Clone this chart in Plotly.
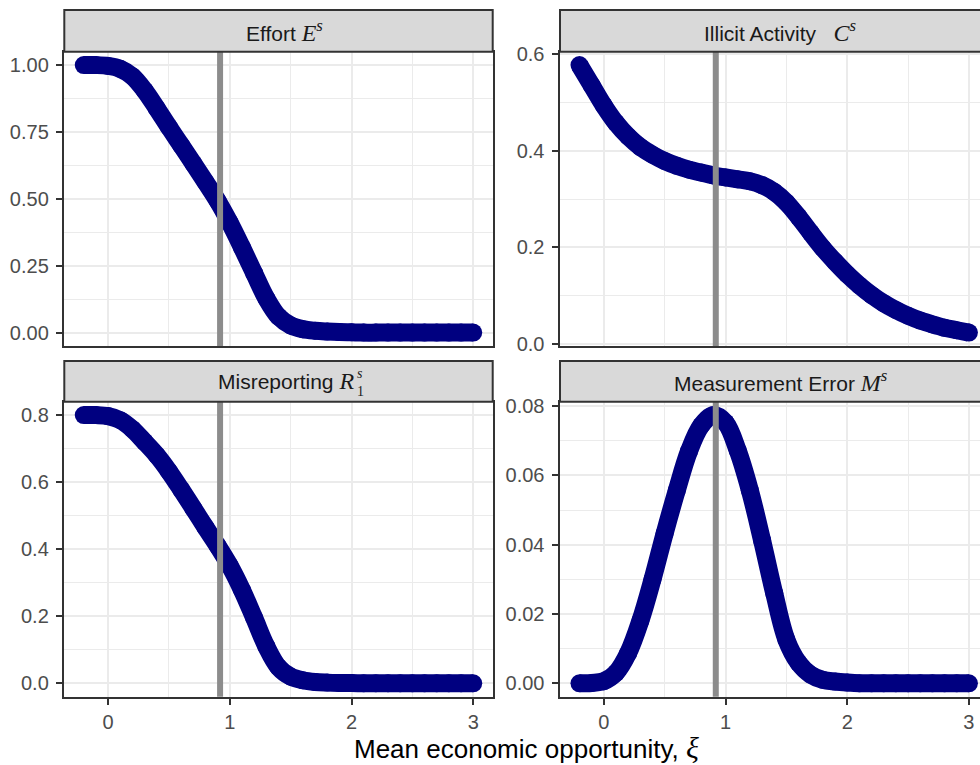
import plotly.graph_objects as go

# ---------------- data ----------------
XI = [-0.2, -0.1, 0.0, 0.1, 0.2, 0.3, 0.4, 0.5, 0.6, 0.7, 0.8, 0.9, 1.0,
      1.1, 1.2, 1.3, 1.4, 1.5, 1.6, 1.7, 1.8, 1.9, 2.0, 2.1, 2.2, 2.3,
      2.4, 2.5, 2.6, 2.7, 2.8, 2.9, 3.0]

effort = [1.000, 1.000, 0.997, 0.986, 0.958, 0.905, 0.838, 0.768, 0.700,
          0.632, 0.563, 0.492, 0.410, 0.318, 0.222, 0.128, 0.060, 0.027,
          0.013, 0.007, 0.004, 0.002, 0.001, 0.000, 0.000, 0.000, 0.000,
          0.000, 0.000, 0.000, 0.000, 0.000, 0.000]

illicit = [0.578, 0.536, 0.494, 0.458, 0.430, 0.408, 0.392, 0.379, 0.369,
           0.361, 0.355, 0.349, 0.345, 0.341, 0.337, 0.329, 0.315, 0.293,
           0.263, 0.230, 0.198, 0.170, 0.144, 0.121, 0.101, 0.084, 0.070,
           0.058, 0.048, 0.040, 0.033, 0.028, 0.023]

misreport = [0.800, 0.800, 0.797, 0.785, 0.758, 0.720, 0.680, 0.632, 0.578,
             0.522, 0.465, 0.410, 0.350, 0.278, 0.195, 0.110, 0.048, 0.020,
             0.009, 0.004, 0.002, 0.001, 0.0005, 0.000, 0.000, 0.000, 0.000,
             0.000, 0.000, 0.000, 0.000, 0.000, 0.000]

measerr = [0.0000, 0.0001, 0.0006, 0.0030, 0.0087, 0.0180, 0.0300, 0.0433,
           0.0557, 0.0670, 0.0744, 0.0774, 0.0752, 0.0672, 0.0557, 0.0413,
           0.0260, 0.0126, 0.0059, 0.0025, 0.0010, 0.0005, 0.0002, 0.0000,
           0.0000, 0.0000, 0.0000, 0.0000, 0.0000, 0.0000, 0.0000, 0.0000,
           0.0000]

XI_REF = 0.92

MATH = "font-family:'Liberation Serif';font-size:24px"
strip_titles = [
    "Effort <span style=\"%s\"><i>E</i><sup><i>s</i></sup></span>" % MATH,
    "Illicit Activity   <span style=\"%s\"><i>C</i><sup><i>s</i></sup></span>" % MATH,
    None,  # built from pieces below (stacked sub/superscript)
    "Measurement Error <span style=\"%s\"><i>M</i><sup><i>s</i></sup></span>" % MATH,
]
misreport_main = "Misreporting <span style=\"%s\"><i>R</i></span>" % MATH
misreport_scripts = "<i>s</i><br>1"
x_title = "Mean economic opportunity, <span style=\"font-family:'Liberation Serif';font-size:30px\"><i>ξ</i></span>"

series = [effort, illicit, misreport, measerr]
y_dticks = [0.25, 0.2, 0.2, 0.02]
y_formats = [".2f", ".1f", ".1f", ".2f"]

# ---------------- layout geometry (pixels) ----------------
W, H = 980, 765
NAVY = "#000080"
GRID = "#EBEBEB"
BORDER = "#333333"
STRIP_TXT = "#1A1A1A"

left_x = (64.3, 492.7)
right_x = (560.0, 989.5)   # right panel runs past the figure edge
top_y = (51.7, 346.0)
bot_y = (401.7, 696.7)
top_strip = (10.0, 51.7)
bot_strip = (361.0, 401.7)

px_per_unit = (left_x[1] - left_x[0]) / 3.52
x_lo = -0.36
x_hi_left = 3.16
x_hi_right = x_lo + (W - right_x[0]) / px_per_unit

panels = [
    (left_x, top_y, top_strip, x_hi_left, False),
    (right_x, top_y, top_strip, x_hi_right, False),
    (left_x, bot_y, bot_strip, x_hi_left, True),
    (right_x, bot_y, bot_strip, x_hi_right, True),
]


def px2paper_x(v):
    return v / W


def px2paper_y(v):
    return 1 - v / H


fig = go.Figure()
layout = dict(
    width=W, height=H,
    margin=dict(l=0, r=0, t=0, b=0, autoexpand=False),
    paper_bgcolor="white", plot_bgcolor="white",
    showlegend=False,
    font=dict(family="Liberation Sans", color="#4D4D4D", size=20),
)
shapes = []
annotations = []

for i, (ys, (px_x, px_y, px_strip, xhi, show_x)) in enumerate(zip(series, panels)):
    n = i + 1
    xa = "x" if n == 1 else "x%d" % n
    ya = "y" if n == 1 else "y%d" % n
    fig.add_trace(go.Scatter(
        x=XI, y=ys, xaxis=xa, yaxis=ya, mode="lines+markers",
        line=dict(color=NAVY, width=18, shape="spline", smoothing=1.0),
        marker=dict(color=NAVY, size=18),
        hoverinfo="skip",
    ))
    ymin, ymax = min(ys), max(ys)
    span = ymax - ymin
    yr = [ymin - 0.05 * span, ymax + 0.05 * span]

    xdom = [px2paper_x(px_x[0]), min(1.0, px2paper_x(px_x[1]))]
    ydom = [px2paper_y(px_y[1]), px2paper_y(px_y[0])]

    xkey = "xaxis" if n == 1 else "xaxis%d" % n
    ykey = "yaxis" if n == 1 else "yaxis%d" % n
    layout[xkey] = dict(
        domain=xdom, anchor=ya, range=[x_lo, xhi], automargin=False,
        tickmode="linear", tick0=0, dtick=1,
        showticklabels=show_x, ticks="outside" if show_x else "",
        ticklen=6.5, tickwidth=2, tickcolor=BORDER,
        tickfont=dict(size=20, color="#4D4D4D"),
        showgrid=True, gridcolor=GRID, gridwidth=2.2,
        minor=dict(tick0=0, dtick=0.5, showgrid=True, gridcolor=GRID, gridwidth=1.1),
        showline=True, mirror=True, linecolor=BORDER, linewidth=2,
        zeroline=False, fixedrange=True,
    )
    layout[ykey] = dict(
        domain=ydom, anchor=xa, range=yr, automargin=False,
        tickmode="linear", tick0=0, dtick=y_dticks[i], tickformat=y_formats[i],
        ticks="outside", ticklen=6.5, tickwidth=2, tickcolor=BORDER,
        ticklabelstandoff=3,
        tickfont=dict(size=20, color="#4D4D4D"),
        showgrid=True, gridcolor=GRID, gridwidth=2.2,
        minor=dict(tick0=0, dtick=y_dticks[i] / 2, showgrid=True, gridcolor=GRID, gridwidth=1.1),
        showline=True, mirror=True, linecolor=BORDER, linewidth=2,
        zeroline=False, fixedrange=True,
    )
    # reference line
    shapes.append(dict(
        type="line", xref=xa, yref="%s domain" % ya,
        x0=XI_REF, x1=XI_REF, y0=0, y1=1,
        line=dict(color="#8C8C8C", width=6), layer="above",
    ))
    # strip
    shapes.append(dict(
        type="rect", xref="paper", yref="paper",
        x0=px2paper_x(px_x[0]), x1=px2paper_x(px_x[1]),
        y0=px2paper_y(px_strip[1]), y1=px2paper_y(px_strip[0]),
        fillcolor="#D9D9D9", line=dict(color=BORDER, width=2), layer="above",
    ))
    cy = (px_strip[0] + px_strip[1]) / 2
    if strip_titles[i] is not None:
        annotations.append(dict(
            xref="paper", yref="paper",
            x=px2paper_x((px_x[0] + px_x[1]) / 2 + 6), y=px2paper_y(cy),
            text=strip_titles[i], showarrow=False,
            xanchor="center", yanchor="middle",
            font=dict(size=21, color=STRIP_TXT, family="Liberation Sans"),
        ))
    else:
        xr = 356.0
        annotations.append(dict(
            xref="paper", yref="paper", x=px2paper_x(xr), y=px2paper_y(cy),
            text=misreport_main, showarrow=False, xanchor="right", yanchor="middle",
            font=dict(size=21, color=STRIP_TXT, family="Liberation Sans"),
        ))
        annotations.append(dict(
            xref="paper", yref="paper", x=px2paper_x(xr - 1.5), y=px2paper_y(cy + 1.5),
            text=misreport_scripts, showarrow=False, xanchor="left", yanchor="middle",
            align="left",
            font=dict(size=14, color=STRIP_TXT, family="Liberation Serif"),
        ))

annotations.append(dict(
    xref="paper", yref="paper",
    x=px2paper_x((left_x[0] + right_x[1]) / 2), y=px2paper_y(747),
    text=x_title, showarrow=False, xanchor="center", yanchor="middle",
    font=dict(size=26, color="black", family="Liberation Sans"),
))

layout["shapes"] = shapes
layout["annotations"] = annotations
fig.update_layout(**layout)
fig.write_html(
    "out.html",
    config={"displayModeBar": False},
    post_script="document.body.style.margin='0';document.body.style.overflow='hidden';",
)
